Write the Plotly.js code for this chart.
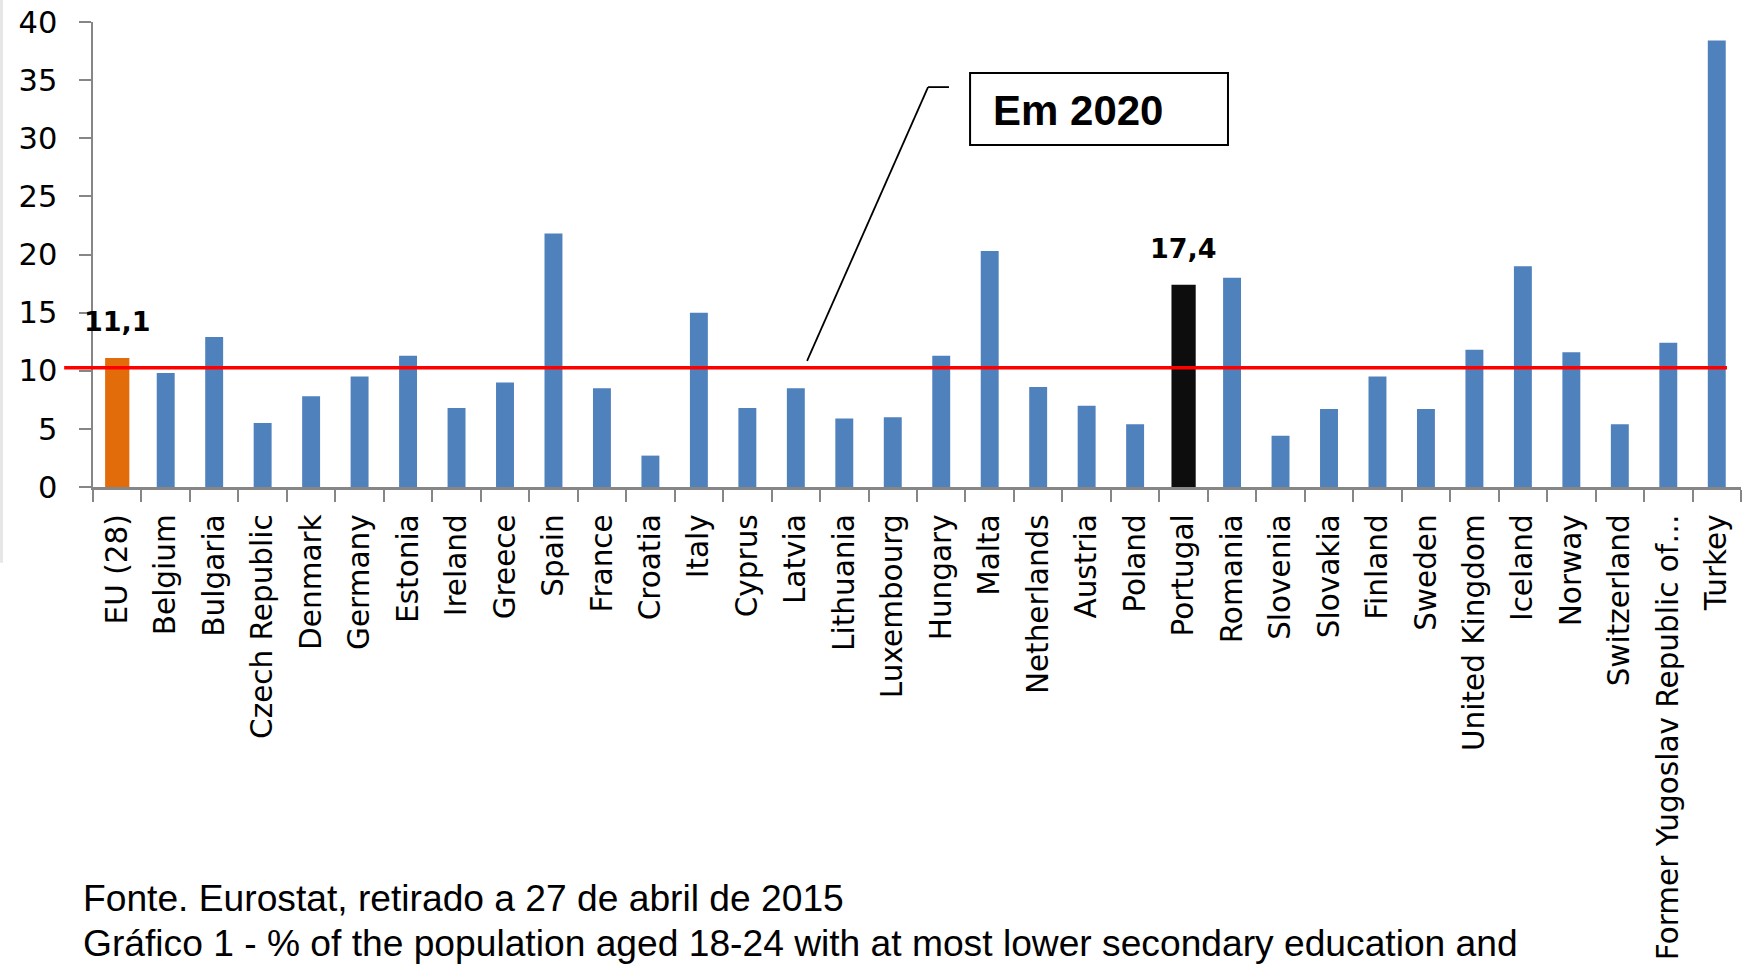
<!DOCTYPE html>
<html>
<head>
<meta charset="utf-8">
<script src="https://cdn.plot.ly/plotly-3.0.1.min.js"></script>
<style>html,body{margin:0;padding:0;background:#fff;}#chart{width:1748px;height:970px;}</style>
</head>
<body>
<div id="chart"></div>
<script>
const countries = ["EU (28)","Belgium","Bulgaria","Czech Republic","Denmark","Germany","Estonia","Ireland","Greece","Spain","France","Croatia","Italy","Cyprus","Latvia","Lithuania","Luxembourg","Hungary","Malta","Netherlands","Austria","Poland","Portugal","Romania","Slovenia","Slovakia","Finland","Sweden","United Kingdom","Iceland","Norway","Switzerland","Former Yugoslav Republic of…","Turkey"];
const earlyLeavers = [11.1,9.8,12.9,5.5,7.8,9.5,11.3,6.8,9.0,21.8,8.5,2.7,15.0,6.8,8.5,5.9,6.0,11.3,20.3,8.6,7.0,5.4,17.4,18.0,4.4,6.7,9.5,6.7,11.8,19.0,11.6,5.4,12.4,38.4];
const yTicks = [0,5,10,15,20,25,30,35,40];
const target2020 = 10.25;
const labelledBars = {"EU (28)": "11,1", "Portugal": "17,4"};
const captionLines = ["Fonte. Eurostat, retirado a 27 de abril de 2015",
  "Gráfico 1 - % of the population aged 18-24 with at most lower secondary education and"];
const calloutText = "Em 2020";

const colors = countries.map(c => c === "EU (28)" ? "#E36C0A" : (c === "Portugal" ? "#0D0D0D" : "#4F81BD"));
const widths = countries.map(c => (c === "EU (28)" || c === "Portugal") ? 0.5 : 0.37);

const trace = {
  type: "bar", x: countries, y: earlyLeavers,
  marker: {color: colors}, width: widths, hoverinfo: "skip"
};

const annotations = Object.keys(labelledBars).map(c => ({
  x: c, y: earlyLeavers[countries.indexOf(c)], xref: "x", yref: "y",
  text: labelledBars[c], showarrow: false, yanchor: "bottom", yshift: 19,
  font: {family: "DejaVu Sans", size: 27, color: "#000", weight: "bold"}
}));
annotations.push({
  xref: "paper", yref: "paper", x: 0.5449, y: 0.8097, xanchor: "left", yanchor: "middle",
  text: calloutText, showarrow: false,
  font: {family: "Liberation Sans", size: 42, color: "#000", weight: "bold"}
});
annotations.push({
  xref: "paper", yref: "paper", x: -0.0075, y: -0.884, xanchor: "left", yanchor: "middle",
  text: captionLines[0], showarrow: false,
  font: {family: "Liberation Sans", size: 37.2, color: "#000"}
});
annotations.push({
  xref: "paper", yref: "paper", x: -0.0075, y: -0.981, xanchor: "left", yanchor: "middle",
  text: captionLines[1], showarrow: false,
  font: {family: "Liberation Sans", size: 37.2, color: "#000"}
});

const shapes = [
  {type: "rect", xref: "paper", yref: "paper", x0: -0.0564, x1: -0.0546, y0: -0.163, y1: 1.05,
   line: {width: 0}, fillcolor: "#e6e6e6", layer: "below"},
  {type: "line", xref: "paper", yref: "y", x0: -0.0175, x1: 0.9915, y0: target2020, y1: target2020,
   line: {color: "#FF0000", width: 3.5}},
  {type: "line", xref: "paper", yref: "paper", x0: 0.4333, y0: 0.271, x1: 0.5067, y1: 0.860,
   line: {color: "#000", width: 1.8}},
  {type: "line", xref: "paper", yref: "paper", x0: 0.5067, y0: 0.860, x1: 0.5194, y1: 0.860,
   line: {color: "#000", width: 1.8}},
  {type: "rect", xref: "paper", yref: "paper", x0: 0.5322, x1: 0.6887, y0: 0.7355, y1: 0.8903,
   line: {color: "#000", width: 2}, fillcolor: "#fff"}
];

const layout = {
  width: 1748, height: 970,
  margin: {l: 93, r: 7, t: 22, b: 483},
  paper_bgcolor: "#fff", plot_bgcolor: "#fff",
  showlegend: false, bargap: 0.6,
  xaxis: {
    type: "category", range: [-0.5, countries.length - 0.5],
    showline: true, linecolor: "#868686", linewidth: 2.5,
    ticks: "outside", tickson: "boundaries", ticklen: 12, tickwidth: 2, tickcolor: "#868686",
    ticklabelstandoff: 13,
    tickangle: -90, tickfont: {family: "DejaVu Sans", size: 29.5, color: "#000"},
    showgrid: false, zeroline: false, fixedrange: true, automargin: false
  },
  yaxis: {
    range: [0, 40], tickvals: yTicks, ticktext: yTicks.map(String),
    showline: true, linecolor: "#868686", linewidth: 2.5,
    ticks: "outside", ticklen: 12, tickwidth: 2, tickcolor: "#868686",
    ticklabelstandoff: 15,
    tickfont: {family: "DejaVu Sans", size: 30.5, color: "#000"},
    showgrid: false, zeroline: false, fixedrange: true, automargin: false
  },
  shapes: shapes,
  annotations: annotations
};

Plotly.newPlot("chart", [trace], layout, {displayModeBar: false, staticPlot: true});
</script>
</body>
</html>
